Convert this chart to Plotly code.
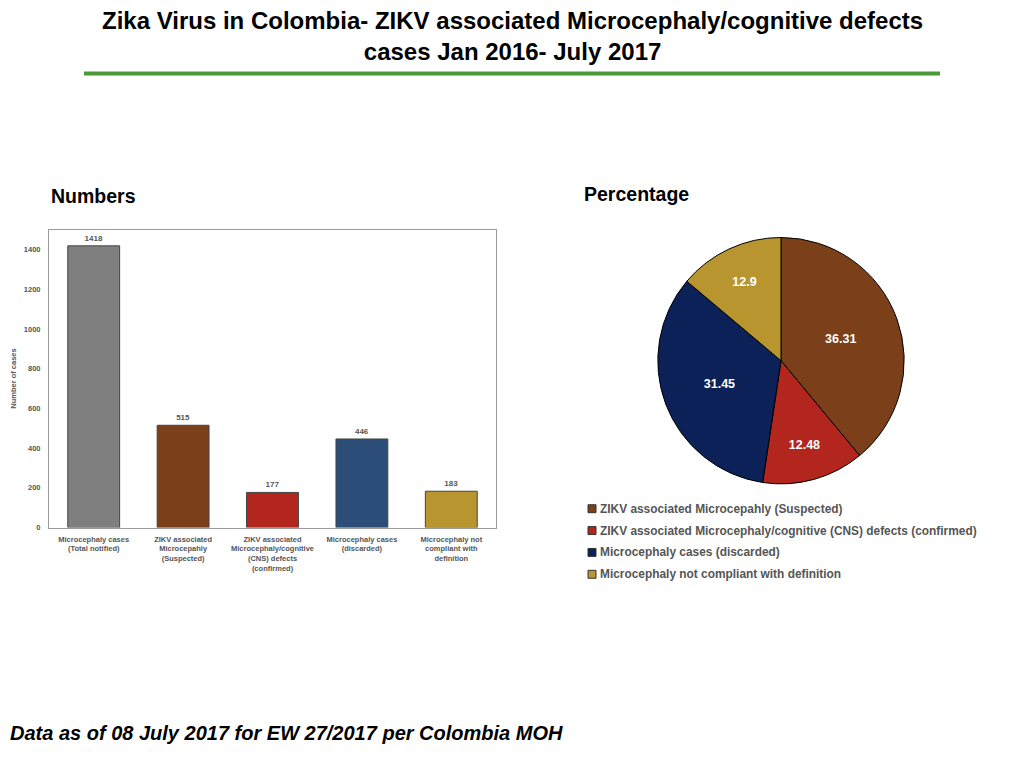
import plotly.graph_objects as go

# bar chart data (numbers)
categories = ['Microcephaly cases<br>(Total notified)',
              'ZIKV associated<br>Microcepahly<br>(Suspected)',
              'ZIKV associated<br>Microcephaly/cognitive<br>(CNS) defects<br>(confirmed)',
              'Microcephaly cases<br>(discarded)',
              'Microcephaly not<br>compliant with<br>definition']
case_counts = [1418, 515, 177, 446, 183]
bar_colors = ['#7f7f7f', '#7b3f1a', '#b3261e', '#2b4d78', '#b8952f']
y_ticks = [0, 200, 400, 600, 800, 1000, 1200, 1400]

# pie chart data (percentage)
pie_labels = ['ZIKV associated Microcepahly (Suspected)',
              'ZIKV associated Microcephaly/cognitive (CNS) defects (confirmed)',
              'Microcephaly cases (discarded)',
              'Microcephaly not compliant with definition']
pie_values = [36.31, 12.48, 31.45, 12.9]
pie_colors = ['#7b3f1a', '#b3261e', '#0b2157', '#b8952f']

W, H = 1024, 768
OFF_X, OFF_Y = 8, 4  # page body margin
px = lambda v: (v - OFF_X) / W
py = lambda v: 1 - (v - OFF_Y) / H

fig = go.Figure()

fig.add_trace(go.Bar(x=categories, y=case_counts,
                     marker=dict(color=bar_colors, line=dict(color='#444444', width=1)),
                     width=0.58,
                     text=['<b>%d</b>' % v for v in case_counts], textposition='outside',
                     textfont=dict(size=8, color='#555555', family='Liberation Sans'),
                     cliponaxis=False,
                     showlegend=False))

fig.add_trace(go.Pie(labels=pie_labels, values=pie_values,
                     text=['<b>%s</b>' % v for v in pie_values], textinfo='text',
                     textposition='inside', insidetextorientation='horizontal',
                     textfont=dict(size=12.5, color='white', family='Liberation Sans'),
                     marker=dict(colors=pie_colors, line=dict(color='black', width=1)),
                     sort=False, direction='clockwise', rotation=0,
                     showlegend=False,
                     domain=dict(x=[px(657), px(905)], y=[py(483), py(235)])))

fig.update_layout(
    width=W, height=H,
    margin=dict(l=0, r=0, t=0, b=0),
    paper_bgcolor='white', plot_bgcolor='white',
    font=dict(family='Liberation Sans', color='#555555'),
    xaxis=dict(domain=[px(49), px(496)], showline=True, mirror=True,
               linecolor='#999999', linewidth=1, ticks='', tickangle=0,
               tickvals=categories, ticktext=['<b>%s</b>' % c for c in categories],
               ticklabelstandoff=4,
               tickfont=dict(size=7.5, color='#555555'), fixedrange=True),
    yaxis=dict(domain=[py(527), py(227)], range=[0, 1500],
               tickvals=y_ticks, ticktext=['<b>%d</b>' % t for t in y_ticks],
               showline=True, mirror=True, linecolor='#999999', linewidth=1,
               showgrid=False, zeroline=False, ticks='', ticklabelstandoff=6,
               tickfont=dict(size=7.5, color='#555555'),
               title=dict(text='<b>Number of cases</b>', font=dict(size=7.5, color='#555555'),
                          standoff=6)),
    showlegend=False,
)

# title
fig.add_annotation(text='<b>Zika Virus in Colombia- ZIKV associated Microcephaly/cognitive defects'
                        '<br>cases Jan 2016- July 2017</b>',
                   xref='paper', yref='paper', x=px(512), y=py(32), xanchor='center',
                   yanchor='middle', showarrow=False,
                   font=dict(family='Liberation Sans', size=24, color='black'))

# green rule under title
fig.add_shape(type='line', xref='paper', yref='paper',
              x0=px(84), x1=px(940), y0=py(70), y1=py(70),
              line=dict(color='#4a9a3a', width=4))

fig.add_annotation(text='<b>Numbers</b>', xref='paper', yref='paper',
                   x=px(49), y=py(193), xanchor='left', yanchor='middle', showarrow=False,
                   font=dict(family='Liberation Sans', size=19.5, color='black'))
fig.add_annotation(text='<b>Percentage</b>', xref='paper', yref='paper',
                   x=px(582), y=py(191), xanchor='left', yanchor='middle', showarrow=False,
                   font=dict(family='Liberation Sans', size=19.5, color='black'))
fig.add_annotation(text='<b><i>Data as of 08 July 2017 for EW 27/2017 per Colombia MOH</i></b>',
                   xref='paper', yref='paper', x=px(8), y=py(734),
                   xanchor='left', yanchor='middle', showarrow=False,
                   font=dict(family='Liberation Sans', size=20, color='black'))

# pie legend: small squares with labels
for i, (lab, col) in enumerate(zip(pie_labels, pie_colors)):
    yc = 508 + 22 * i
    fig.add_shape(type='rect', xref='paper', yref='paper',
                  x0=px(588), x1=px(596), y0=py(yc + 4), y1=py(yc - 4),
                  fillcolor=col, line=dict(color='#333333', width=1))
    fig.add_annotation(text='<b>%s</b>' % lab, xref='paper', yref='paper',
                       x=px(598), y=py(yc), xanchor='left', yanchor='middle',
                       showarrow=False,
                       font=dict(family='Liberation Sans', size=11.9, color='#555555'))

fig.write_html('out.html')
